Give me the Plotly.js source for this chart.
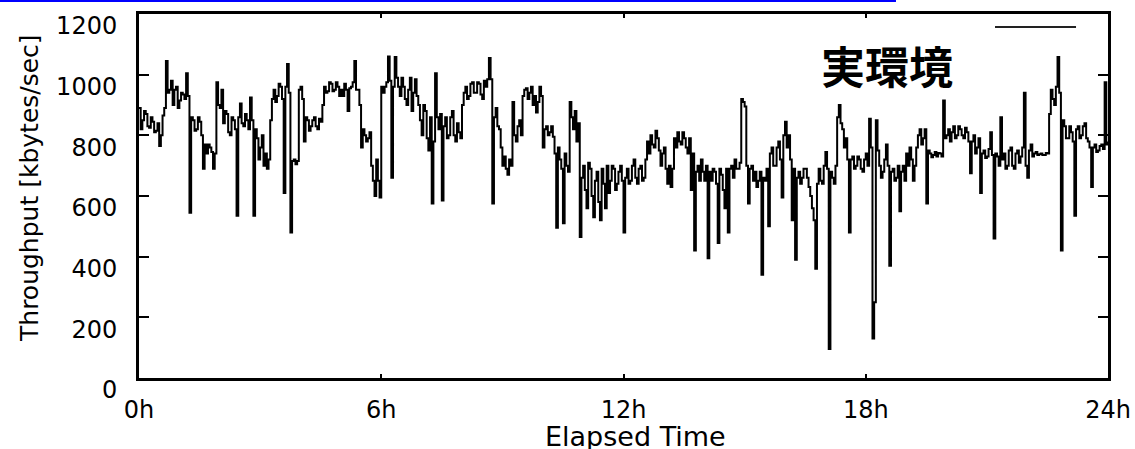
<!DOCTYPE html>
<html>
<head>
<meta charset="utf-8">
<script src="https://cdn.plot.ly/plotly-3.0.1.min.js"></script>
<style>
html,body{margin:0;padding:0;background:#fff;}
#chart{width:1135px;height:449px;}
</style>
</head>
<body>
<div id="chart"></div>
<script>
// Throughput samples every 2.5 minutes over 24 hours (kbytes/sec)
const sampleMinutes = 2.5;
const throughput = [
  890,820, 850,880, 870,830, 825,860, 845,810, 815,840, 765,800, 865,890, 1045,940, 950,980,
  900,950, 960,890, 915,940, 935,920, 1005,930, 545,860, 850,815, 820,860, 845,800, 690,770,
  740,770, 760,745, 690,740, 975,900, 890,950, 840,880, 870,810, 800,860, 850,820, 535,860,
  905,840, 830,870, 850,820, 925,850, 535,820, 790,720, 760,800, 700,740, 690,720, 850,920,
  950,910, 930,970, 960,920, 610,960, 1035,940, 480,715, 720,705, 715,950, 960,920, 780,860,
  850,815, 830,850, 860,830, 820,855, 845,900, 960,940, 945,975, 970,945, 950,975, 960,930,
  950,930, 970,950, 880,955, 960,975, 1045,950, 950,900, 760,820, 800,780, 790,810, 700,650,
  600,720, 650,595, 960,940, 960,975, 1060,980, 660,960, 1058,990, 960,930, 990,960, 920,900,
  950,990, 880,940, 985,930, 900,850, 800,900, 880,790, 750,860, 575,780, 1005,860, 820,870,
  585,830, 860,790, 800,860, 880,800, 780,840, 810,790, 900,940, 960,920, 930,970, 975,940,
  940,975, 970,935, 920,980, 960,985, 1055,985, 575,860, 890,830, 820,760, 700,730, 690,670,
  720,700, 910,800, 780,830, 850,800, 930,950, 955,920, 940,960, 900,930, 875,910, 960,930,
  760,820, 830,800, 810,830, 795,740, 495,760, 720,690, 510,740, 700,680, 910,860, 820,880,
  780,840, 465,660, 700,620, 560,710, 690,600, 530,650, 680,580, 520,690, 640,560, 700,610,
  650,700, 690,620, 640,680, 700,650, 480,660, 690,640, 650,700, 720,660, 640,690, 700,650,
  660,720, 780,740, 800,770, 760,815, 790,750, 700,740, 760,690, 640,700, 630,690, 790,760,
  810,780, 770,810, 790,760, 740,790, 620,740, 420,680, 700,650, 720,680, 650,700, 395,680,
  650,690, 680,640, 445,690, 670,620, 560,690, 480,690, 700,660, 720,690, 690,710, 920,910,
  895,700, 575,690, 700,650, 680,630, 650,680, 340,660, 650,690, 500,740, 760,700, 700,760,
  780,720, 595,800, 845,760, 800,720, 520,690, 390,660, 680,640, 660,690, 690,660, 630,600,
  560,520, 360,640, 690,650, 640,700, 745,690, 96,680, 660,640, 700,860, 900,840, 820,760,
  790,720, 480,720, 730,690, 700,730, 720,690, 680,720, 740,700, 855,760, 130,250, 850,750,
  700,660, 680,720, 770,700, 370,680, 690,650, 660,700, 550,680, 700,650, 740,700, 760,720,
  650,700, 760,800, 820,770, 790,820, 575,750, 740,728, 735,745, 730,742, 740,730, 915,790,
  800,820, 780,810, 830,790, 800,830, 820,800, 790,825, 810,780, 675,780, 800,740, 760,790,
  610,740, 750,725, 730,755, 810,735, 460,740, 730,700, 860,720, 740,690, 700,750, 760,700,
  690,740, 750,710, 730,760, 940,700, 660,750, 770,730, 740,745, 735,738, 740,735, 735,742,
  740,870, 950,920, 900,960, 1058,940, 420,850, 830,790, 790,830, 810,780, 535,820, 830,790,
  800,830, 840,790, 780,760, 630,760, 770,745, 750,765, 770,755, 975,770, 780
];
const elapsedHours = throughput.map((_, i) => i * sampleMinutes / 60);

const xTickVals = [0, 6, 12, 18, 24];
const xTickText = ['0h', '6h', '12h', '18h', '24h'];
const yTickVals = [0, 200, 400, 600, 800, 1000, 1200];

const xTitle = 'Elapsed Time';
const yTitle = 'Throughput [kbytes/sec]';
const label = '実環境';

const tickFont = {family: 'DejaVu Sans', size: 24, color: '#000'};

const trace = {
  x: elapsedHours,
  y: throughput,
  type: 'scatter',
  mode: 'lines',
  line: {color: '#000', width: 2, shape: 'hv'},
  showlegend: false,
  hoverinfo: 'skip'
};

const layout = {
  width: 1135,
  height: 449,
  margin: {l: 139, r: 27, t: 14, b: 71, pad: 0},
  paper_bgcolor: '#fff',
  plot_bgcolor: '#fff',
  showlegend: false,
  xaxis: {
    range: [0, 24],
    tickvals: xTickVals,
    ticktext: xTickText,
    ticks: 'inside',
    ticklen: 4,
    tickwidth: 2,
    tickcolor: '#000',
    showline: true,
    linewidth: 3,
    linecolor: '#000',
    mirror: 'allticks',
    showgrid: false,
    zeroline: false,
    tickfont: tickFont,
    ticklabelstandoff: 8
  },
  yaxis: {
    range: [0, 1200],
    tickvals: yTickVals,
    ticks: 'inside',
    ticklen: 10,
    tickwidth: 2,
    tickcolor: '#000',
    showline: true,
    linewidth: 3,
    linecolor: '#000',
    mirror: 'allticks',
    showgrid: false,
    zeroline: false,
    tickfont: tickFont,
    ticklabelstandoff: 14,
    ticklabelshift: 12
  },
  annotations: [
    {text: xTitle, xref: 'paper', yref: 'paper', x: 0.512, y: -0.162,
     xanchor: 'center', yanchor: 'middle', showarrow: false,
     font: {family: 'DejaVu Sans', size: 27, color: '#000'}},
    {text: yTitle, xref: 'paper', yref: 'paper', x: -0.1125, y: 0.522,
     xanchor: 'center', yanchor: 'middle', showarrow: false, textangle: -90,
     font: {family: 'DejaVu Sans', size: 25, color: '#000'}},
    {text: '<b>' + label + '</b>', xref: 'paper', yref: 'paper', x: 0.772, y: 0.86,
     xanchor: 'center', yanchor: 'middle', showarrow: false,
     font: {family: 'Noto Sans CJK JP', size: 44, color: '#000'}}
  ],
  shapes: [
    {type: 'line', xref: 'paper', yref: 'paper', x0: 0.8834, x1: 0.967, y0: 0.9643, y1: 0.9643,
     line: {color: '#222', width: 2}},
    {type: 'line', xref: 'paper', yref: 'paper', x0: -0.1435, x1: 0.7812, y0: 1.0357, y1: 1.0357,
     line: {color: '#0000ff', width: 2}}
  ]
};

Plotly.newPlot('chart', [trace], layout, {displayModeBar: false, staticPlot: true});
</script>
</body>
</html>
